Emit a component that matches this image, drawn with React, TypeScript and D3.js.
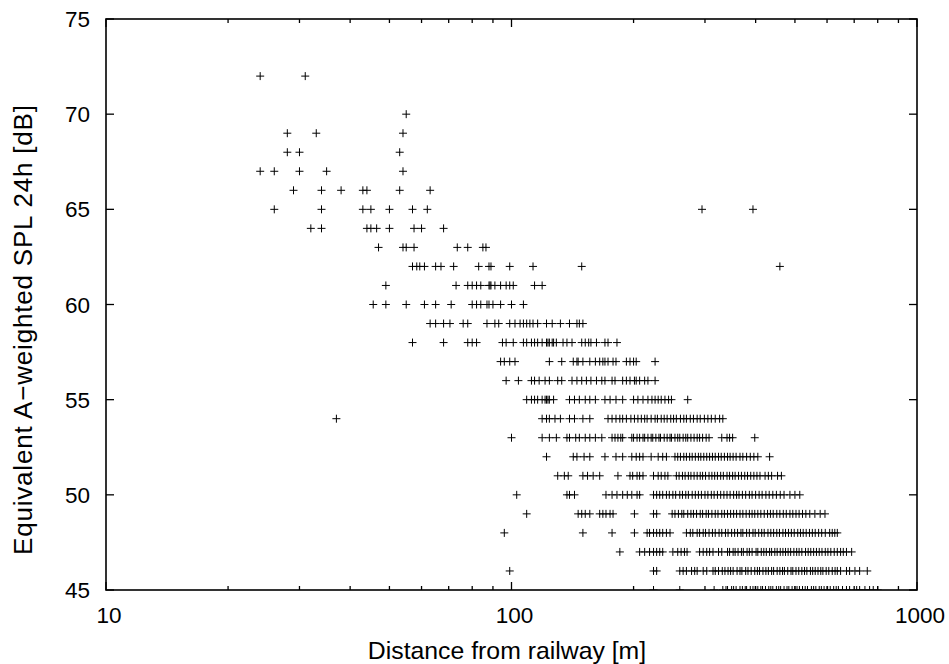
import React from "react";
import * as d3 from "d3";

// Measured A-weighted 24h sound pressure level (dB) vs. distance from the railway (m).
// Each array lists the distances at which the given integer level was recorded.
const spl72 = [24, 31];
const spl70 = [55];
const spl69 = [28, 33, 54];
const spl68 = [28, 30, 53];
const spl67 = [24, 26, 30, 35, 54];
const spl66 = [29, 34, 38, 43, 44, 53, 63];
const spl65 = [26, 34, 43, 45, 50, 57, 62, 295, 394];
const spl64 = [32, 34, 44, 45, 46.5, 50, 57.5, 60, 68];
const spl63 = [47, 54, 55, 57.5, 73.5, 78, 85, 86.5];
const spl62 = [57, 58.4, 59.4, 61, 65, 67, 72, 83, 88, 89, 99, 113, 149, 459];
const spl61 = [49, 73, 78, 80, 82, 84, 88, 88.5, 89, 91, 94, 97, 99, 101, 114, 119];
const spl60 = [45.6, 49, 55, 61, 65, 71, 80, 82, 84, 87, 88, 90, 94, 100, 107];
const spl59 = [63, 65, 68, 70.5, 76, 78, 87, 91, 93, 99, 102, 105, 107, 109, 111, 113, 116, 122, 126, 132, 139, 145, 147, 150];
const spl58 = [57, 68, 78, 80, 82, 95, 97, 101, 107, 109, 112, 114, 116, 119, 122, 123, 124, 126, 127, 129, 134, 137, 141, 149, 152, 155, 157, 162, 170, 173, 182];
const spl57 = [94, 96, 99, 102, 124, 133, 142, 145, 146, 150, 156, 161, 165, 168, 170, 173, 178, 181, 192, 196, 200, 203, 226];
const spl56 = [97, 104, 112, 114, 117, 121, 124, 130, 133, 141, 145, 149, 153, 157, 162, 167, 170, 177, 180, 188, 192, 196, 201, 203, 207, 213, 217, 226];
const spl55 = [109, 112, 114, 116, 119, 121, 122, 123, 124, 127, 139, 143, 147, 152, 156, 161, 170, 175, 181, 188, 200, 205, 211, 217, 222, 226, 230, 234, 239, 244, 248, 272];
const spl54 = [37, 119, 122, 124, 128, 132, 139, 143, 150, 156, 173, 177, 181, 185, 188, 192, 197, 201, 205, 209, 213, 216, 221, 226, 229, 234, 238, 242, 247, 251, 255, 261, 266, 270, 276, 281, 287, 292, 299, 305, 311, 318, 326, 332];
const spl53 = [100, 119, 124, 129, 137, 139, 144, 147, 152, 156, 161, 167, 177, 180, 183, 186, 188, 198, 200, 204, 207, 211, 213, 217, 221, 223, 227, 231, 233, 238, 242, 246, 248, 253, 257, 260, 265, 269, 272, 277, 282, 287, 291, 296, 302, 307, 330, 340, 345, 351, 398];
const spl52 = [122, 142, 145, 151, 156, 170, 181, 188, 198, 203, 207, 211, 221, 230, 236, 241, 253, 257, 261, 266, 270, 275, 279, 284, 289, 293, 298, 303, 308, 313, 318, 324, 329, 335, 341, 346, 352, 358, 366, 372, 380, 388, 396, 405, 433];
const spl51 = [130, 135, 138, 150, 154, 159, 165, 183, 196, 199, 204, 207, 211, 224, 230, 234, 239, 243, 255, 259, 264, 268, 273, 277, 282, 287, 292, 296, 301, 307, 312, 317, 322, 328, 333, 340, 345, 351, 356, 363, 369, 376, 382, 389, 396, 403, 410, 422, 430, 438, 453, 463];
const spl50 = [103, 137, 139, 143, 171, 177, 182, 188, 193, 198, 204, 207, 224, 228, 232, 236, 241, 245, 250, 254, 260, 264, 269, 273, 279, 284, 289, 294, 300, 305, 311, 316, 322, 328, 334, 340, 346, 353, 359, 364, 371, 378, 386, 392, 400, 408, 415, 424, 432, 441, 450, 460, 470, 486, 500, 514];
const spl49 = [109, 146, 149, 152, 156, 165, 168, 171, 175, 178, 201, 224, 228, 249, 253, 258, 263, 266, 272, 277, 281, 286, 292, 296, 302, 306, 312, 318, 323, 330, 335, 341, 347, 353, 359, 366, 372, 379, 386, 392, 398, 405, 412, 420, 428, 435, 442, 451, 459, 468, 476, 486, 494, 503, 512, 522, 532, 544, 560, 577, 593];
const spl48 = [96, 150, 177, 201, 216, 219, 224, 228, 232, 236, 241, 246, 270, 276, 280, 287, 291, 297, 301, 307, 313, 318, 325, 330, 337, 342, 349, 355, 361, 368, 372, 380, 386, 394, 399, 407, 414, 420, 429, 436, 443, 451, 458, 467, 474, 482, 490, 498, 508, 516, 524, 533, 543, 552, 561, 572, 582, 594, 609, 618, 627, 636];
const spl47 = [185, 207, 213, 219, 224, 228, 232, 236, 250, 257, 262, 267, 271, 291, 297, 303, 308, 314, 324, 330, 341, 345, 352, 356, 362, 369, 373, 381, 386, 392, 401, 405, 413, 419, 425, 433, 438, 446, 452, 460, 467, 474, 481, 488, 497, 505, 512, 520, 531, 539, 547, 556, 565, 574, 583, 594, 603, 613, 625, 636, 648, 658, 670, 690];
const spl46 = [99, 224, 228, 260, 265, 270, 278, 283, 287, 297, 303, 314, 318, 324, 331, 336, 342, 347, 352, 360, 366, 370, 378, 383, 390, 398, 404, 409, 417, 424, 430, 438, 443, 452, 459, 466, 471, 480, 489, 494, 503, 511, 520, 528, 535, 546, 553, 561, 570, 579, 586, 597, 606, 618, 628, 636, 648, 670, 682, 703, 722, 754];
const spl45 = [224, 260, 316, 332, 338, 341, 349, 353, 358, 366, 371, 377, 380, 388, 394, 399, 405, 412, 416, 423, 431, 436, 441, 450, 456, 461, 470, 478, 483, 492, 500, 506, 513, 522, 530, 537, 549, 556, 563, 574, 581, 590, 602, 611, 623, 632, 640, 655, 670, 682, 710, 722, 744, 764, 780, 800];

const levelRows: [number, number[]][] = [
  [72, spl72], [70, spl70], [69, spl69], [68, spl68], [67, spl67], [66, spl66],
  [65, spl65], [64, spl64], [63, spl63], [62, spl62], [61, spl61], [60, spl60],
  [59, spl59], [58, spl58], [57, spl57], [56, spl56], [55, spl55], [54, spl54],
  [53, spl53], [52, spl52], [51, spl51], [50, spl50], [49, spl49], [48, spl48],
  [47, spl47], [46, spl46], [45, spl45],
];

const yTicks = [45, 50, 55, 60, 65, 70, 75];
const xMajorTicks = [10, 100, 1000];
const xMinorTicks = [20, 30, 40, 50, 60, 70, 80, 90, 200, 300, 400, 500, 600, 700, 800, 900];

const xLabel = "Distance from railway [m]";
const yLabel = "Equivalent A\u2212weighted SPL 24h [dB]";

const W = 949;
const H = 664;
const left = 106;
const right = 917;
const top = 19;
const bottom = 590;
const FONT = "'Liberation Sans', Arial, Helvetica, sans-serif";

export default function App() {
  const x = d3.scaleLog().domain([10, 1000]).range([left, right]);
  const y = d3.scaleLinear().domain([45, 75]).range([bottom, top]);

  const points = levelRows.flatMap(([lvl, ds]) => ds.map((d) => [x(d), y(lvl)] as [number, number]));
  const plusPath = points
    .map(([px, py]) => `M${px - 4},${py}h8M${px},${py - 4}v8`)
    .join("");

  return (
    <svg
      width={W}
      height={H}
      viewBox={`0 0 ${W} ${H}`}
      style={{ position: "absolute", left: 0, top: 0, background: "#fff" }}
    >
      <rect x={0} y={0} width={W} height={H} fill="#fff" />
      <defs>
        <clipPath id="plotClip">
          <rect x={left} y={top} width={right - left} height={bottom - top} />
        </clipPath>
      </defs>
      <g clipPath="url(#plotClip)">
        <path d={plusPath} fill="none" stroke="#000" strokeWidth={1} />
      </g>

      {/* y ticks, inward on both sides */}
      {yTicks.map((t) => (
        <g key={`y${t}`}>
          <line x1={left} x2={left + 8} y1={y(t)} y2={y(t)} stroke="#000" strokeWidth={1.3} />
          <line x1={right} x2={right - 8} y1={y(t)} y2={y(t)} stroke="#000" strokeWidth={1.3} />
          <text
            x={90}
            y={y(t) + 8}
            textAnchor="end"
            fontFamily={FONT}
            fontSize={22.5}
            fill="#000"
          >
            {t}
          </text>
        </g>
      ))}

      {/* x ticks on bottom and top */}
      {xMajorTicks.map((t) => (
        <g key={`xM${t}`}>
          <line x1={x(t)} x2={x(t)} y1={bottom} y2={bottom - 8} stroke="#000" strokeWidth={1.3} />
          <line x1={x(t)} x2={x(t)} y1={top} y2={top + 8} stroke="#000" strokeWidth={1.3} />
          <text
            x={x(t) + 3}
            y={622.7}
            textAnchor="middle"
            fontFamily={FONT}
            fontSize={22.5}
            fill="#000"
          >
            {t}
          </text>
        </g>
      ))}
      {xMinorTicks.map((t) => (
        <g key={`xm${t}`}>
          <line x1={x(t)} x2={x(t)} y1={bottom} y2={bottom - 4} stroke="#000" strokeWidth={1.3} />
          <line x1={x(t)} x2={x(t)} y1={top} y2={top + 4} stroke="#000" strokeWidth={1.3} />
        </g>
      ))}

      <rect
        x={left}
        y={top}
        width={right - left}
        height={bottom - top}
        fill="none"
        stroke="#000"
        strokeWidth={1.6}
      />

      <text x={507} y={658.7} textAnchor="middle" fontFamily={FONT} fontSize={24.8} fill="#000">
        {xLabel}
      </text>
      <text
        transform={`translate(32, 330) rotate(-90)`}
        textAnchor="middle"
        fontFamily={FONT}
        fontSize={26}
        textLength={450}
        lengthAdjust="spacing"
        fill="#000"
      >
        {yLabel}
      </text>
    </svg>
  );
}
